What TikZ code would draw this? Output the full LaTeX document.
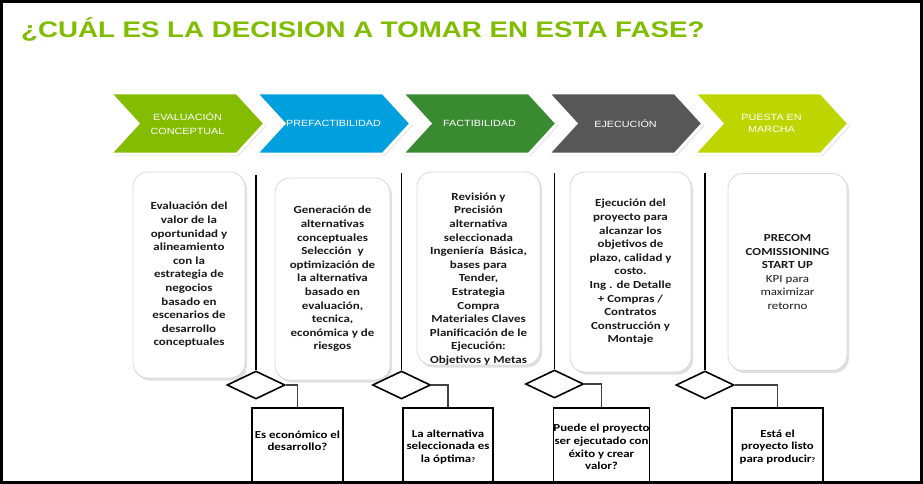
\documentclass[tikz,border=0pt]{standalone}
\usepackage{fontspec}
\usetikzlibrary{shapes.geometric, shapes.symbols, shadows, positioning}
\newfontfamily\titlefont{Liberation Sans}[FakeStretch=1.23]
\newfontfamily\chevfont{Liberation Sans}[FakeStretch=1.2]
\newfontfamily\cardfont{Carlito}[FakeStretch=1.2]
\definecolor{titlegreen}{RGB}{128,188,0}
\definecolor{evalgreen}{RGB}{132,189,0}
\definecolor{prefblue}{RGB}{0,160,223}
\definecolor{facgreen}{RGB}{58,138,50}
\definecolor{ejecgray}{RGB}{87,87,87}
\definecolor{marchalime}{RGB}{190,214,0}
\newcommand{\smallq}{{\fontsize{7}{8}\selectfont ?}}

\begin{document}
\begin{tikzpicture}[x=1pt, y=-1pt, node distance=146pt,
    chevron/.style = {signal, signal from=west, signal to=east, signal pointer angle=95,
                      minimum width=155pt, minimum height=61pt, inner sep=0pt,
                      draw=white, line width=3pt, text=white, align=center,
                      font=\chevfont\fontsize{9}{14}\selectfont,
                      drop shadow={opacity=0.25, shadow xshift=1.5pt, shadow yshift=-2pt}},
    card/.style = {draw=black!15, line width=0.8pt, fill=white, rounded corners=15pt,
                   align=center, text=black!90, inner sep=0pt,
                   font=\cardfont\bfseries\fontsize{10.8}{13.6}\selectfont,
                   drop shadow={opacity=0.25, shadow xshift=2pt, shadow yshift=-2.5pt}},
    cardtext/.style = {align=center, text=black!90, inner sep=0pt,
                       font=\cardfont\bfseries\fontsize{10.8}{13.6}\selectfont},
    decision/.style = {diamond, draw=black, fill=white, line width=1.6pt,
                       minimum width=58pt, minimum height=28pt, inner sep=0pt},
    question/.style = {draw=black, fill=white, line width=1.8pt, minimum height=78pt,
                       align=center, inner sep=0pt,
                       font=\cardfont\bfseries\fontsize{10.7}{12.7}\selectfont},
    stem/.style = {draw=black, line width=1.6pt},
    link/.style = {draw=black!75, line width=1.8pt}]
    \useasboundingbox (0,0) rectangle (923,484);

    \node[anchor=base west, inner sep=0pt, text=titlegreen,
          font=\titlefont\bfseries\fontsize{22.5}{27}\selectfont] (title) at (21,38)
          {¿CUÁL ES LA DECISION A TOMAR EN ESTA FASE?};

    \node[chevron, fill=evalgreen] (eval) at (187.5,123.5) {EVALUACIÓN\\CONCEPTUAL};
    \node[chevron, fill=prefblue, on grid, right=of eval] (pref) {PREFACTIBILIDAD};
    \node[chevron, fill=facgreen, on grid, right=of pref] (fact) {FACTIBILIDAD};
    \node[chevron, fill=ejecgray, on grid, right=of fact] (ejec) {EJECUCIÓN};
    \node[chevron, fill=marchalime, on grid, right=of ejec] (marcha)
          {PUESTA EN\\[-1.5pt]MARCHA};

    \node[card, minimum width=112pt, minimum height=206pt] (c1) at (189,275)
          {Evaluación del\\valor de la\\oportunidad y\\alineamiento\\con la\\estrategia de\\negocios\\basado en\\escenarios de\\desarrollo\\conceptuales};
    \node[card, minimum width=115pt, minimum height=202pt] (c2) at (332.5,279)
          {Generación de\\alternativas\\conceptuales\\Selección \ y\\optimización de\\la alternativa\\basado en\\evaluación,\\tecnica,\\económica y de\\riesgos};
    \node[card, minimum width=123pt, minimum height=193pt] (c3) at (478.5,268.5) {};
    \node[cardtext] (t3) at (478.5,279)
          {Revisión y\\Precisión\\alternativa\\seleccionada\\Ingeniería \ Básica,\\bases para\\Tender,\\Estrategia\\Compra\\Materiales Claves\\Planificación de le\\Ejecución:\\Objetivos y Metas};
    \node[card, minimum width=121pt, minimum height=200pt] (c4) at (630.5,272)
          {Ejecución del\\proyecto para\\alcanzar los\\objetivos de\\plazo, calidad y\\costo.\\Ing . de Detalle\\+ Compras /\\Contratos\\Construcción y\\Montaje};
    \node[card, minimum width=119pt, minimum height=197pt, font=\cardfont\fontsize{10.8}{13.6}\selectfont] (c5) at (787.5,272)
          {\textbf{PRECOM}\\\textbf{COMISSIONING}\\\textbf{START UP}\\KPI para\\maximizar\\retorno};

    \node[decision] (d1) at (256,385) {};
    \node[decision] (d2) at (401.5,385) {};
    \node[decision] (d3) at (554.5,384) {};
    \node[decision] (d4) at (705,385) {};

    \coordinate (v1) at (256,175);
    \coordinate (v2) at (401.5,173);
    \coordinate (v3) at (554.5,173);
    \coordinate (v4) at (705,173);

    \node[question, minimum width=91pt] (q1) at (297.5,447) {Es económico el\\desarrollo?\\~};
    \node[question, minimum width=90pt] (q2) at (448,447) {La alternativa\\seleccionada es\\la óptima\smallq};
    \node[question, minimum width=93pt] (q3) at (601.5,447) {Puede el proyecto\\ser ejecutado con\\éxito y crear\\valor?};
    \node[question, minimum width=91pt] (q4) at (777.5,447) {Está el\\proyecto listo\\para producir\smallq};

    \foreach \i in {1,...,4} {
        \draw[stem] (v\i) -- (d\i.north);
        \draw[link] (d\i.east) -| (q\i.north);
    }

    \draw[line width=3pt] (1.5,1.5) rectangle (921.5,482.5);
\end{tikzpicture}
\end{document}
